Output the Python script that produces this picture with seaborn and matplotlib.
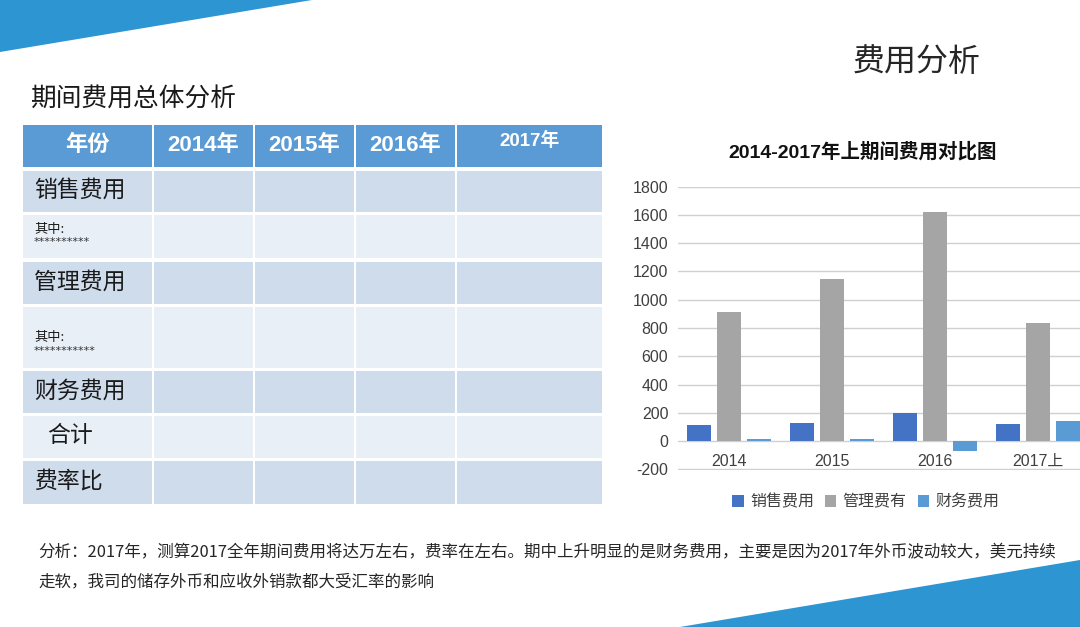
import pandas as pd
import matplotlib.pyplot as plt
import seaborn as sns
from matplotlib.patches import Polygon, Rectangle

# Estilo
sns.set_theme(style="white")
plt.rcParams['font.family'] = ['Liberation Sans', 'Noto Sans CJK SC', 'DejaVu Sans']
plt.rcParams['axes.unicode_minus'] = False

# Dados do gráfico
anos = ["2014", "2015", "2016", "2017上"]
series = ["销售费用", "管理费有", "财务费用"]
vendas = [111, 130, 198, 118]
gestao = [915, 1147, 1621, 835]
financeiro = [14, 14, -71, 144]
cores = ["#4472C4", "#A5A5A5", "#5B9BD5"]

# Dados da tabela (apenas rótulos)
colunas = ["年份", "2014年", "2015年", "2016年", "2017年"]
linhas = ["销售费用", "其中:", "管理费用", "其中:", "财务费用", "合计", "费率比"]
estrelas = ["**********", "***********"]

analise = ["分析：2017年，测算2017全年期间费用将达万左右，费率在左右。期中上升明显的是财务费用，主要是因为2017年外币波动较大，美元持续",
           "走软，我司的储存外币和应收外销款都大受汇率的影响"]

df = pd.DataFrame({
    "年份": anos * 3,
    "项目": [s for s in series for _ in anos],
    "金额": vendas + gestao + financeiro,
})

W, H = 1080, 627
fig = plt.figure(figsize=(W / 100, H / 100), dpi=100)

# Fundo em coordenadas de pixel
bg = fig.add_axes([0, 0, 1, 1])
bg.set_xlim(0, W)
bg.set_ylim(H, 0)
bg.axis("off")

azul = "#2E95D3"
bg.add_patch(Polygon([(0, 0), (312, 0), (0, 52)], closed=True, color=azul, lw=0))
bg.add_patch(Polygon([(680, 627), (1080, 560), (1080, 627)], closed=True, color=azul, lw=0))

bg.text(917, 62, "费用分析", fontsize=23, ha="center", va="center",
        family=["Noto Sans CJK SC"], color="#262626")
bg.text(30, 100, "期间费用总体分析", fontsize=18.5, ha="left", va="center",
        family=["Noto Sans CJK SC"], color="#1a1a1a")

# Tabela
col_x = [(23, 152), (154, 253), (255, 354), (356, 455), (457, 602)]
lin_y = [(171, 212), (215, 258), (262, 304), (307, 368), (371, 413), (416, 458), (461, 504)]

for i, (x0, x1) in enumerate(col_x):
    bg.add_patch(Rectangle((x0, 125), x1 - x0, 42, color="#5B9BD5", lw=0))
    if i == 4:
        bg.text((x0 + x1) / 2, 141, colunas[i], fontsize=13.5, weight="bold",
                ha="center", va="center", color="white")
    else:
        bg.text((x0 + x1) / 2, 145, colunas[i], fontsize=16, weight="bold",
                ha="center", va="center", color="white")

for j, (y0, y1) in enumerate(lin_y):
    cor = "#CFDCEC" if j % 2 == 0 else "#E9EFF7"
    for (x0, x1) in col_x:
        bg.add_patch(Rectangle((x0, y0), x1 - x0, y1 - y0, color=cor, lw=0))
    nome = linhas[j]
    if nome == "其中:":
        k = 0 if j == 1 else 1
        yc = 229 if j == 1 else 338
        bg.text(34, yc, nome, fontsize=9.5, ha="left", va="center",
                family=["Noto Sans CJK SC"], color="#1a1a1a")
        bg.text(34, yc + 13, estrelas[k], fontsize=8, ha="left", va="center",
                family=["DejaVu Sans"], color="#333333")
    else:
        xl = 47 if nome == "合计" else 34
        bg.text(xl, (y0 + y1) / 2 - 1, nome, fontsize=16.5, ha="left", va="center",
                family=["Noto Sans CJK SC"], color="#1a1a1a")

for linha, yt in zip(analise, [553, 582]):
    bg.text(38, yt, linha, fontsize=11.9, ha="left", va="center",
            family=["Noto Sans CJK SC"], color="#262626")

# Gráfico de barras
left, right = 678, 1089
top, bottom = 186.7, 470.2
ax = fig.add_axes([left / W, 1 - bottom / H, (right - left) / W, (bottom - top) / H])
sns.barplot(data=df, x="年份", y="金额", hue="项目", order=anos, hue_order=series,
            palette=cores, saturation=1, width=0.876, gap=0.2, linewidth=0,
            edgecolor="none", ax=ax)
ax.set_ylim(-206, 1800)
ax.set_yticks(range(-200, 1801, 200))
ax.set_xlim(-0.5, 3.5)
ax.grid(axis="y", color="#D0D0D0", lw=1)
ax.set_axisbelow(True)
for s in ax.spines.values():
    s.set_visible(False)
ax.set_xlabel("")
ax.set_ylabel("")
ax.tick_params(axis="y", length=0, pad=7, labelsize=11.5, labelcolor="#404040")
ax.tick_params(axis="x", length=0, pad=-12, labelsize=11.5, labelcolor="#404040")
ax.patch.set_alpha(0)

handles, labels = ax.get_legend_handles_labels()
ax.legend(handles, labels, loc="center", bbox_to_anchor=(866 / W, 1 - 502 / H),
          bbox_transform=fig.transFigure, ncol=3, frameon=False, fontsize=11.5,
          handlelength=0.7, handleheight=0.7, handletextpad=0.4, columnspacing=0.7,
          labelcolor="#404040")

fig.text(863 / W, 1 - 152 / H, "2014-2017年上期间费用对比图", fontsize=14, weight="bold",
         ha="center", va="center", color="#111111")

fig.savefig("out.png", dpi=100)
